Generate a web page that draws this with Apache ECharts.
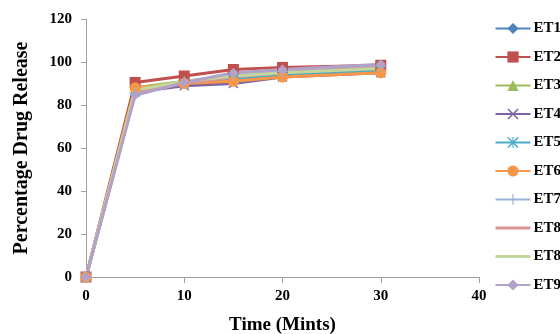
<!DOCTYPE html>
<html lang="en">
<head>
    <meta charset="utf-8"/>
    <script src="https://cdn.jsdelivr.net/npm/echarts@6/dist/echarts.min.js"></script>
</head>
<body style="margin: 0">
<div id="container" style="width: 560px;height:334px;"></div>
<script type="text/javascript">
    // time points (minutes)
    var times = [0, 5, 10, 15, 20, 30];
    // two series are both labelled ET8 in the original, second one gets a zero-width space so the legend keeps both
    var names = ['ET1', 'ET2', 'ET3', 'ET4', 'ET5', 'ET6', 'ET7', 'ET8', 'ET8\u200B', 'ET9'];

    // percentage drug release per formulation
    var et1 = [0, 87, 90, 93, 95, 97];
    var et2 = [0, 90.5, 93.5, 96.5, 97.5, 98.5];
    var et3 = [0, 88, 91, 93.5, 95.5, 97];
    var et4 = [0, 86, 89, 90, 93, 95];
    var et5 = [0, 86.5, 90, 92, 94, 96];
    var et6 = [0, 88, 90, 91, 93, 95];
    var et7 = [0, 85.5, 90.5, 94, 95.5, 98];
    var et8a = [0, 86, 90, 93, 95, 97.5];
    var et8b = [0, 87, 91, 93.5, 95, 97];
    var et9 = [0, 84.5, 90.5, 95, 96.5, 99];
    var allData = [et1, et2, et3, et4, et5, et6, et7, et8a, et8b, et9];

    var yTicks = [0, 20, 40, 60, 80, 100, 120];
    var xTicks = [0, 10, 20, 30, 40];

    var colors = ['#4F81BD', '#C0504D', '#9BBB59', '#8064A2', '#4BACC6', '#F79646',
        '#95B3D7', '#D99694', '#C3D69B', '#B3A2C7'];

    var crossPath = 'path://M0,1L1,0L5,4L9,0L10,1L6,5L10,9L9,10L5,6L1,10L0,9L4,5Z';
    var plusPath = 'path://M4.5,0L5.5,0L5.5,4.5L10,4.5L10,5.5L5.5,5.5L5.5,10L4.5,10L4.5,5.5L0,5.5L0,4.5L4.5,4.5Z';
    var starPath = 'path://M0,1L1,0L5,4L9,0L10,1L6,5L10,9L9,10L5,6L1,10L0,9L4,5Z M4.5,0L5.5,0L5.5,10L4.5,10Z';
    var symbols = ['diamond', 'rect', 'triangle', crossPath, starPath, 'circle', plusPath, 'none', 'none', 'diamond'];
    var sizes = [10, 11, 10, 10, 10, 11, 12, 0, 0, 10];

    var myChart = echarts.init(document.getElementById('container'));

    var series = [];
    var legendData = [];
    for (var i = 0; i < names.length; i++) {
        var pts = [];
        for (var j = 0; j < times.length; j++) {
            pts.push([times[j], allData[i][j]]);
        }
        series.push({
            name: names[i],
            type: 'line',
            data: pts,
            symbol: symbols[i],
            symbolSize: sizes[i],
            showSymbol: symbols[i] !== 'none',
            lineStyle: {color: colors[i], width: 3},
            itemStyle: {color: colors[i]}
        });
        if (symbols[i] === 'none') {
            // no marker in the legend either, only the line
            legendData.push({name: names[i], itemStyle: {opacity: 0}, lineStyle: {color: colors[i], width: 3, opacity: 1}});
        } else {
            legendData.push({name: names[i]});
        }
    }

    var option = {
        animation: false,
        color: colors,
        textStyle: {fontFamily: 'Liberation Serif'},
        legend: {
            orient: 'vertical',
            left: 494,
            top: 21,
            padding: 0,
            itemWidth: 35,
            itemHeight: 14,
            itemGap: 13.5,
            textStyle: {fontFamily: 'Liberation Serif', fontWeight: 'bold', fontSize: 15, lineHeight: 14, color: '#000', padding: [0, 0, 0, -2]},
            data: legendData
        },
        grid: {left: 86, right: 81, top: 19, bottom: 57, outerBoundsMode: 'none'},
        xAxis: {
            type: 'value',
            min: xTicks[0],
            max: xTicks[xTicks.length - 1],
            interval: 10,
            name: 'Time (Mints)',
            nameLocation: 'middle',
            nameGap: 39,
            nameTextStyle: {fontFamily: 'Liberation Serif', fontWeight: 'bold', fontSize: 19, color: '#000'},
            axisLine: {lineStyle: {color: '#A0A0A0'}},
            axisTick: {show: true, length: 6, lineStyle: {color: '#A0A0A0'}},
            axisLabel: {fontFamily: 'Liberation Serif', fontWeight: 'bold', fontSize: 15, color: '#000', margin: 12},
            splitLine: {show: false}
        },
        yAxis: {
            type: 'value',
            min: yTicks[0],
            max: yTicks[yTicks.length - 1],
            interval: 20,
            name: 'Percentage Drug Release',
            nameLocation: 'middle',
            nameGap: 54,
            nameTextStyle: {fontFamily: 'Liberation Serif', fontWeight: 'bold', fontSize: 20, color: '#000'},
            axisLine: {show: true, lineStyle: {color: '#A0A0A0'}},
            axisTick: {show: true, length: 5, lineStyle: {color: '#A0A0A0'}},
            axisLabel: {fontFamily: 'Liberation Serif', fontWeight: 'bold', fontSize: 15, color: '#000', margin: 14},
            splitLine: {show: false}
        },
        series: series
    };

    myChart.setOption(option);
</script>
</body>
</html>
